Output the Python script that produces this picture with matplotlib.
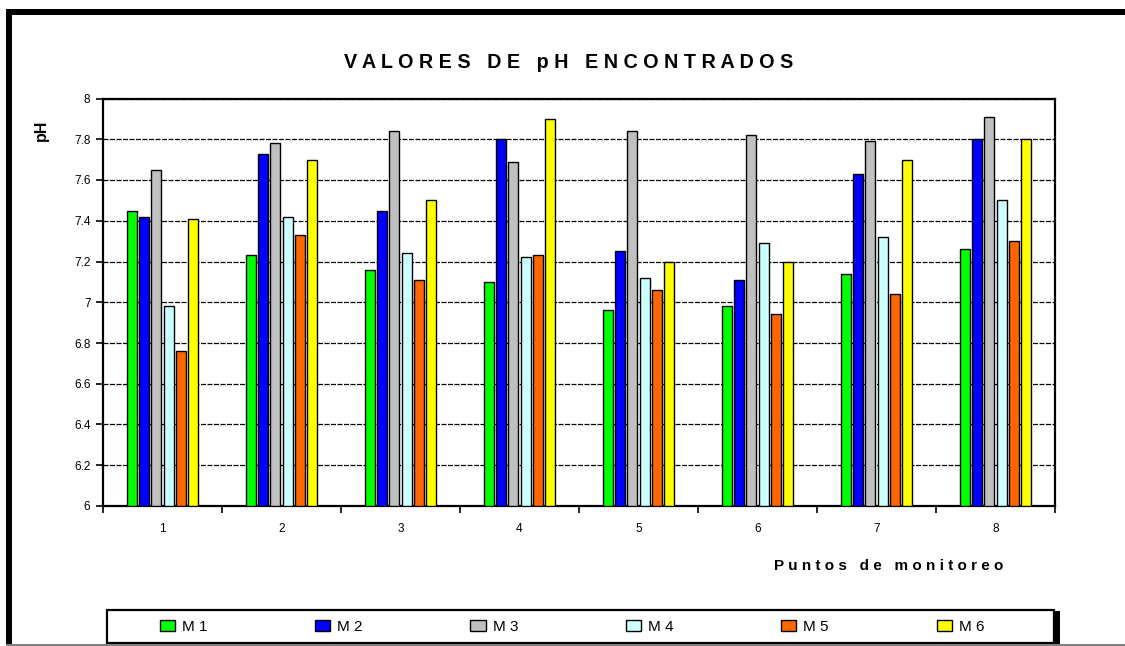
import numpy as np
import matplotlib
matplotlib.use("Agg")
import matplotlib.pyplot as plt
from matplotlib.patches import Rectangle

plt.rcParams["font.family"] = ["Liberation Sans", "DejaVu Sans"]

# ─── Data ─────────────────────────────────────────────────────────────────────
puntos = ["1", "2", "3", "4", "5", "6", "7", "8"]
series = ["M 1", "M 2", "M 3", "M 4", "M 5", "M 6"]
m1 = [7.45, 7.23, 7.16, 7.10, 6.96, 6.98, 7.14, 7.26]
m2 = [7.42, 7.73, 7.45, 7.80, 7.25, 7.11, 7.63, 7.80]
m3 = [7.65, 7.78, 7.84, 7.69, 7.84, 7.82, 7.79, 7.91]
m4 = [6.98, 7.42, 7.24, 7.22, 7.12, 7.29, 7.32, 7.50]
m5 = [6.76, 7.33, 7.11, 7.23, 7.06, 6.94, 7.04, 7.30]
m6 = [7.41, 7.70, 7.50, 7.90, 7.20, 7.20, 7.70, 7.80]
colores = ["#00FF00", "#0000FF", "#C0C0C0", "#CCFFFF", "#FF6600", "#FFFF00"]
y_ticks = [6, 6.2, 6.4, 6.6, 6.8, 7, 7.2, 7.4, 7.6, 7.8, 8]

valores = [m1, m2, m3, m4, m5, m6]

# ─── Figure ───────────────────────────────────────────────────────────────────
W, H = 1125, 646
fig = plt.figure(figsize=(W / 100, H / 100), dpi=100)
ax = fig.add_axes([103 / W, 1 - 506 / H, (1055 - 103) / W, (506 - 98.5) / H])

x = np.arange(1, len(puntos) + 1)
pitch = 0.1034
width = 0.082
for i, (vals, col, name) in enumerate(zip(valores, colores, series)):
    offs = (i - 2.5) * pitch
    ax.bar(x + offs, np.array(vals) - 6, bottom=6, width=width,
           color=col, edgecolor="black", linewidth=1.0, label=name, zorder=3)

ax.set_xlim(0.5, len(puntos) + 0.5)
ax.set_ylim(6, 8)
ax.set_yticks(y_ticks)
ax.set_yticklabels([f"{v:g}" for v in y_ticks], fontsize=8.5)

# ticks at group boundaries, labels at centres
ax.set_xticks(np.arange(0.5, len(puntos) + 1, 1))
ax.set_xticklabels([])
ax.set_xticks(x, minor=True)
ax.set_xticklabels(puntos, minor=True, fontsize=8.5)
ax.tick_params(axis="x", which="major", direction="out", length=5, width=1.2)
ax.tick_params(axis="x", which="minor", length=0, pad=12)
ax.tick_params(axis="y", direction="out", length=5, width=1.2, pad=4)

ax.yaxis.grid(True, color="black", linestyle=(0, (4, 1.2)), linewidth=0.9)
ax.set_axisbelow(True)
for s in ax.spines.values():
    s.set_linewidth(1.6)

# ─── Texts ────────────────────────────────────────────────────────────────────
fig.text(569 / W, 1 - 63 / H, "V A L O R E S   D E   p H   E N C O N T R A D O S",
         ha="center", va="center", fontsize=14.2, fontweight="bold")
fig.text(889 / W, 1 - 566 / H, "P u n t o s   d e   m o n i t o r e o",
         ha="center", va="center", fontsize=11, fontweight="bold")
fig.text(41 / W, 1 - 130 / H, "pH", rotation=90, ha="center", va="center",
         fontsize=11.5, fontweight="bold")

# ─── Legend box ───────────────────────────────────────────────────────────────
fig.add_artist(Rectangle((1055 / W, 0), 5 / W, 35 / H, transform=fig.transFigure,
                         facecolor="black", edgecolor="none"))
fig.add_artist(Rectangle((107 / W, 3 / H), (1054 - 107) / W, 33 / H,
                         transform=fig.transFigure, facecolor="white",
                         edgecolor="black", linewidth=1.6))
fig.legend(loc="center", bbox_to_anchor=(572 / W, 1 - 627 / H), ncol=6,
           frameon=False, fontsize=11, handlelength=1.0, handleheight=0.75,
           handletextpad=0.45, columnspacing=7.05)

# ─── Outer frame ──────────────────────────────────────────────────────────────
fig.add_artist(Rectangle((6 / W, 0), 6 / W, 1 - 9 / H, transform=fig.transFigure,
                         facecolor="black", edgecolor="none"))
fig.add_artist(Rectangle((6 / W, 1 - 15 / H), 1 - 6 / W, 6 / H,
                         transform=fig.transFigure, facecolor="black",
                         edgecolor="none"))
fig.add_artist(Rectangle((6 / W, 0), 1 - 6 / W, 2 / H, transform=fig.transFigure,
                         facecolor="#808080", edgecolor="none"))

fig.savefig("out.png", dpi=100)
